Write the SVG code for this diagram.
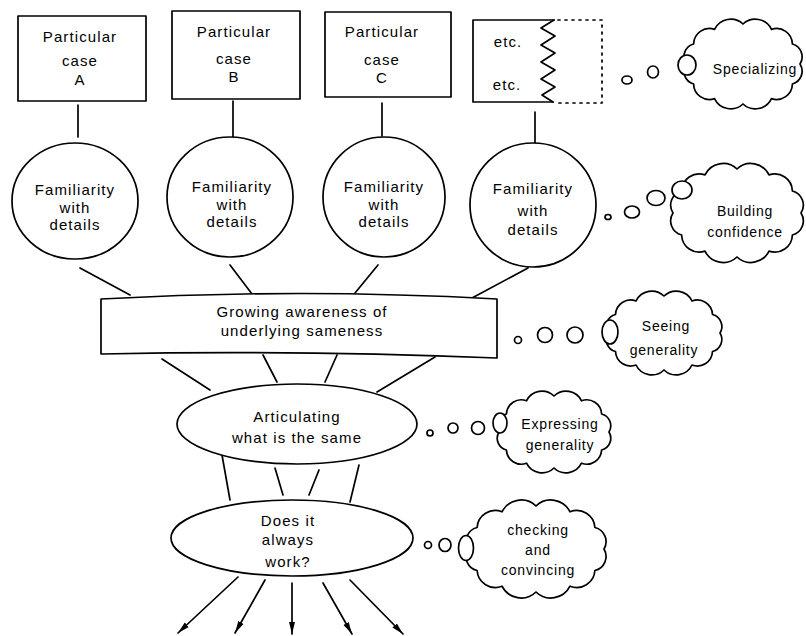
<svg xmlns="http://www.w3.org/2000/svg" width="806" height="636" viewBox="0 0 806 636">
<style>
.ln{fill:none;stroke:#000;stroke-width:1.7;stroke-linecap:round;stroke-linejoin:round}
.sh{fill:#fff;stroke:#000;stroke-width:1.7;stroke-linejoin:round}
.t{font-family:"Liberation Sans",Arial,sans-serif;font-size:15px;letter-spacing:1.1px;text-anchor:middle;fill:#000}
.c{font-family:"Liberation Sans",Arial,sans-serif;font-size:14px;letter-spacing:0.8px;text-anchor:middle;fill:#000}
</style>
<defs>
<marker id="ah" viewBox="0 0 12 8" refX="12" refY="4" markerWidth="12" markerHeight="8" markerUnits="userSpaceOnUse" orient="auto">
<path d="M0,1 L12,4 L0,7 z" fill="#000"/>
</marker>
</defs>
<rect width="806" height="636" fill="#fff"/>

<g id="connectors">
<path class="ln" d="M78,105 L78,137"/>
<path class="ln" d="M233,101 L233,137"/>
<path class="ln" d="M382,103 L382,136"/>
<path class="ln" d="M535,112 L535,143"/>
<path class="ln" d="M80,268 L130,295"/>
<path class="ln" d="M230,265 L252,294"/>
<path class="ln" d="M378,265 L355,293"/>
<path class="ln" d="M528,268 L472,298"/>
<path class="ln" d="M162,359 L210,390"/>
<path class="ln" d="M263,355 L277,382"/>
<path class="ln" d="M337,355 L325,382"/>
<path class="ln" d="M435,357 L377,392"/>
<path class="ln" d="M222,455 L230,500"/>
<path class="ln" d="M275,468 L283,495"/>
<path class="ln" d="M319,470 L309,495"/>
<path class="ln" d="M359,465 L350,502"/>
<path class="ln" d="M238,577 L178,633" marker-end="url(#ah)"/>
<path class="ln" d="M265,580 L235,633" marker-end="url(#ah)"/>
<path class="ln" d="M292,583 L292,634" marker-end="url(#ah)"/>
<path class="ln" d="M323,583 L352,634" marker-end="url(#ah)"/>
<path class="ln" d="M350,580 L403,634" marker-end="url(#ah)"/>
</g>

<g id="caseA">
<rect class="sh" x="18" y="16" width="128" height="85"/>
<text class="t" x="80" y="42">Particular</text>
<text class="t" x="80" y="66">case</text>
<text class="t" x="80" y="85">A</text>
</g>
<g id="caseB">
<rect class="sh" x="172" y="11" width="128" height="88"/>
<text class="t" x="234" y="37">Particular</text>
<text class="t" x="234" y="64">case</text>
<text class="t" x="234" y="82">B</text>
</g>
<g id="caseC">
<rect class="sh" x="325" y="12" width="126" height="85"/>
<text class="t" x="382" y="37">Particular</text>
<text class="t" x="382" y="65">case</text>
<text class="t" x="382" y="83">C</text>
</g>
<g id="caseEtc">
<path class="ln" d="M554,20 L473,20 L473,102 L553,102"/>
<path class="ln" d="M554,20 L541,28 L555,36 L541,45 L555,53 L541,62 L555,70 L541,79 L555,87 L542,95 L553,102"/>
<path class="ln" d="M558,20 L602,20 L602,103 L556,103" stroke-dasharray="2 5"/>
<text class="t" x="508" y="47">etc.</text>
<text class="t" x="507" y="90">etc.</text>
</g>

<g id="fam1">
<ellipse class="sh" cx="75" cy="201" rx="63" ry="58"/>
<text class="t" x="75" y="195">Familiarity</text>
<text class="t" x="75" y="213">with</text>
<text class="t" x="75" y="230">details</text>
</g>
<g id="fam2">
<ellipse class="sh" cx="230" cy="197" rx="63" ry="60"/>
<text class="t" x="232" y="192">Familiarity</text>
<text class="t" x="232" y="210">with</text>
<text class="t" x="232" y="227">details</text>
</g>
<g id="fam3">
<ellipse class="sh" cx="384" cy="197" rx="61" ry="60"/>
<text class="t" x="384" y="192">Familiarity</text>
<text class="t" x="384" y="210">with</text>
<text class="t" x="384" y="227">details</text>
</g>
<g id="fam4">
<ellipse class="sh" cx="533" cy="205" rx="63" ry="62"/>
<text class="t" x="533" y="194">Familiarity</text>
<text class="t" x="533" y="216">with</text>
<text class="t" x="533" y="235">details</text>
</g>

<g id="growing">
<path class="sh" d="M101,299 Q300,288 497,299 L497,358 Q300,350 101,354 Z"/>
<text class="t" x="302" y="317">Growing awareness of</text>
<text class="t" x="302" y="336">underlying sameness</text>
</g>

<g id="articulating">
<ellipse class="sh" cx="297" cy="424" rx="120" ry="40"/>
<text class="t" x="297" y="422">Articulating</text>
<text class="t" x="297" y="443">what is the same</text>
</g>

<g id="doesit">
<ellipse class="sh" cx="292" cy="538" rx="121" ry="38"/>
<text class="t" x="288" y="526">Does it</text>
<text class="t" x="288" y="545">always</text>
<text class="t" x="288" y="567">work?</text>
</g>

<g id="specializing">
<ellipse class="sh" cx="627" cy="80" rx="5" ry="4"/>
<ellipse class="sh" cx="653" cy="72" rx="5.5" ry="6"/>
<path class="sh" d="M800,64 A13.3,13.3 0 0 1 792.4,84 A15.8,15.8 0 0 1 771.5,98.6 A18,18 0 0 1 743,104 A18,18 0 0 1 714.5,98.6 A15.8,15.8 0 0 1 693.6,84 A13.3,13.3 0 0 1 686,64 A13.3,13.3 0 0 1 693.6,44 A15.8,15.8 0 0 1 714.5,29.4 A18,18 0 0 1 743,24 A18,18 0 0 1 771.5,29.4 A15.8,15.8 0 0 1 792.4,44 A13.3,13.3 0 0 1 800,64 Z"/>
<ellipse class="sh" cx="687" cy="65" rx="9" ry="10"/>
<text class="c" x="755" y="74">Specializing</text>
</g>

<g id="building">
<ellipse class="sh" cx="608" cy="217" rx="3" ry="2.5"/>
<ellipse class="sh" cx="632" cy="212" rx="7.5" ry="6"/>
<ellipse class="sh" cx="656" cy="198" rx="9" ry="7.5"/>
<path class="sh" d="M801,213 A14.6,14.6 0 0 1 792.4,235 A17.6,17.6 0 0 1 769,251.1 A20.2,20.2 0 0 1 737,257 A20.2,20.2 0 0 1 705,251.1 A17.6,17.6 0 0 1 681.6,235 A14.6,14.6 0 0 1 673,213 A14.6,14.6 0 0 1 681.6,191 A17.6,17.6 0 0 1 705,174.9 A20.2,20.2 0 0 1 737,169 A20.2,20.2 0 0 1 769,174.9 A17.6,17.6 0 0 1 792.4,191 A14.6,14.6 0 0 1 801,213 Z"/>
<ellipse class="sh" cx="682" cy="190" rx="10" ry="9"/>
<text class="c" x="745" y="216">Building</text>
<text class="c" x="745" y="237">confidence</text>
</g>

<g id="seeing">
<ellipse class="sh" cx="518" cy="340" rx="3.5" ry="3.5"/>
<ellipse class="sh" cx="545" cy="335" rx="7.5" ry="7.5"/>
<ellipse class="sh" cx="575" cy="335" rx="8" ry="8"/>
<path class="sh" d="M720,333 A12.4,12.4 0 0 1 712.5,351.5 A15.2,15.2 0 0 1 692,365 A17.6,17.6 0 0 1 664,370 A17.6,17.6 0 0 1 636,365 A15.2,15.2 0 0 1 615.5,351.5 A12.4,12.4 0 0 1 608,333 A12.4,12.4 0 0 1 615.5,314.5 A15.2,15.2 0 0 1 636,301 A17.6,17.6 0 0 1 664,296 A17.6,17.6 0 0 1 692,301 A15.2,15.2 0 0 1 712.5,314.5 A12.4,12.4 0 0 1 720,333 Z"/>
<ellipse class="sh" cx="610" cy="332" rx="8" ry="12"/>
<text class="c" x="666" y="331">Seeing</text>
<text class="c" x="664" y="355">generality</text>
</g>

<g id="expressing">
<ellipse class="sh" cx="430" cy="433" rx="3" ry="3"/>
<ellipse class="sh" cx="453" cy="428" rx="5" ry="5"/>
<ellipse class="sh" cx="478" cy="428" rx="6.5" ry="6.5"/>
<path class="sh" d="M609,432 A12.1,12.1 0 0 1 601.6,450 A14.9,14.9 0 0 1 581.5,463.2 A17.3,17.3 0 0 1 554,468 A17.3,17.3 0 0 1 526.5,463.2 A14.9,14.9 0 0 1 506.4,450 A12.1,12.1 0 0 1 499,432 A12.1,12.1 0 0 1 506.4,414 A14.9,14.9 0 0 1 526.5,400.8 A17.3,17.3 0 0 1 554,396 A17.3,17.3 0 0 1 581.5,400.8 A14.9,14.9 0 0 1 601.6,414 A12.1,12.1 0 0 1 609,432 Z"/>
<ellipse class="sh" cx="500" cy="423" rx="7" ry="10"/>
<text class="c" x="560" y="429">Expressing</text>
<text class="c" x="560" y="450">generality</text>
</g>

<g id="checking">
<ellipse class="sh" cx="428" cy="545" rx="3.5" ry="3.5"/>
<ellipse class="sh" cx="445" cy="545" rx="6" ry="6.5"/>
<path class="sh" d="M604,549 A14.5,14.5 0 0 1 594.9,570.5 A18.2,18.2 0 0 1 570,586.2 A21.4,21.4 0 0 1 536,592 A21.4,21.4 0 0 1 502,586.2 A18.2,18.2 0 0 1 477.1,570.5 A14.5,14.5 0 0 1 468,549 A14.5,14.5 0 0 1 477.1,527.5 A18.2,18.2 0 0 1 502,511.8 A21.4,21.4 0 0 1 536,506 A21.4,21.4 0 0 1 570,511.8 A18.2,18.2 0 0 1 594.9,527.5 A14.5,14.5 0 0 1 604,549 Z"/>
<ellipse class="sh" cx="466" cy="548" rx="7.5" ry="12.5"/>
<text class="c" x="538" y="535">checking</text>
<text class="c" x="538" y="555">and</text>
<text class="c" x="538" y="575">convincing</text>
</g>
</svg>
